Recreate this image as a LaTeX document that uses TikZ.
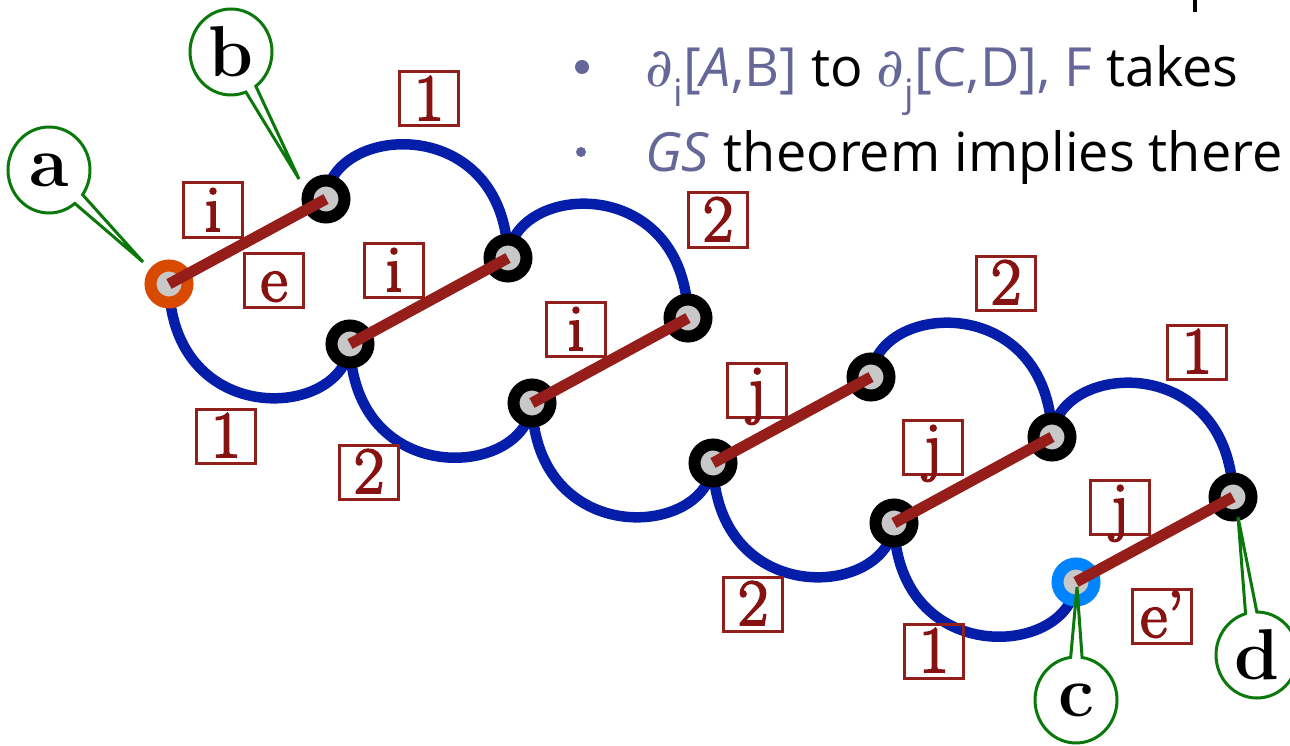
\documentclass[tikz,border=0pt]{standalone}
\usepackage{fontspec}
\usetikzlibrary{shapes.callouts,backgrounds,calc}
\newfontfamily\bulletfont{Open Sans}
\newfontfamily\dfont{DejaVu Serif}
\newfontfamily\labfont{Latin Modern Roman}[Ligatures=TeX,FakeBold=3]
\definecolor{edgered}{RGB}{150,30,26}
\definecolor{labred}{RGB}{135,18,18}
\definecolor{boxred}{RGB}{145,32,28}
\definecolor{arcblue}{RGB}{5,30,170}
\definecolor{ringorange}{RGB}{216,74,0}
\definecolor{ringblue}{RGB}{0,132,255}
\definecolor{calloutgreen}{RGB}{10,120,10}
\definecolor{txtpurple}{RGB}{102,102,153}
\definecolor{hubgray}{RGB}{200,200,200}
\begin{document}
\begin{tikzpicture}[x=1pt,y=-1pt,
  vtx/.style={circle,draw=black,fill=hubgray,line width=12pt,minimum size=37pt,inner sep=0pt},
  redge/.style={draw=edgered,line width=11pt},
  barc/.style={draw=arcblue,line width=10.5pt},
  lab/.style={draw=boxred,line width=3pt,text=labred,minimum width=59pt,minimum height=54pt,
    inner sep=0pt,text height=42pt,text depth=0pt,font=\labfont\fontsize{66}{66}\selectfont},
  tag/.style={ellipse callout,draw=calloutgreen,fill=white,line width=3pt,minimum width=82pt,
    minimum height=86pt,inner sep=0pt,callout pointer arc=16,font=\fontsize{72}{72}\selectfont\bfseries},
  txt/.style={anchor=base west,inner sep=0pt,font=\bulletfont\fontsize{54}{54}\selectfont}
]
\useasboundingbox (0,0) rectangle (1290,746);
\clip (0,0) rectangle (1290,746);

% vertices
\node[vtx,draw=ringorange] (a) at (169,284) {};
\node[vtx] (b) at (326,199) {};
\node[vtx] (n3) at (508,258) {};
\node[vtx] (n4) at (688,318) {};
\node[vtx] (l1) at (350,344) {};
\node[vtx] (l2) at (532,403) {};
\node[vtx] (l3) at (713,463) {};
\node[vtx] (l4) at (894,523) {};
\node[vtx,draw=ringblue] (c) at (1076,582) {};
\node[vtx] (u1) at (871,377) {};
\node[vtx] (u2) at (1052,437) {};
\node[vtx] (d) at (1233,497) {};

% blue arcs
\begin{pgfonlayer}{background}
\foreach \p/\q in {a/l1,l1/l2,l2/l3,l3/l4,l4/c}{
  \draw[barc] (\p.center) .. controls ($(\p)+(3,146)$) and ($(\q)+(-5,76)$) .. (\q.center);
}
\foreach \p/\q in {b/n3,n3/n4,u1/u2,u2/d}{
  \draw[barc] (\p.center) .. controls ($(\p)+(5,-76)$) and ($(\q)+(-3,-146)$) .. (\q.center);
}
\end{pgfonlayer}

% red edges
\foreach \p/\q in {a/b,l1/n3,l2/n4,l3/u1,l4/u2,c/d}{
  \draw[redge] (\p.center) -- (\q.center);
}

% labels
\node[lab] (t1) at (429,99) {1};
\node[lab] (ti1) at (213,210) {i};
\node[lab] (te) at (274,280) {e};
\node[lab] (ti2) at (394,270) {i};
\node[lab] (t2a) at (718,220) {2};
\node[lab] (ti3) at (576,329) {i};
\node[lab] (t1b) at (226,436) {1};
\node[lab] (t2b) at (369,472) {2};
\node[lab] (t2c) at (1006,283) {2};
\node[lab] (t1c) at (1197,352) {1};
\node[lab] (tj1) at (757,390) {j};
\node[lab] (tj2) at (933,447) {j};
\node[lab] (tj3) at (1120,507) {j};
\node[lab] (tep) at (1162,616) {e’};
\node[lab] (t2d) at (753,604) {2};
\node[lab] (t1d) at (934,651) {1};

% callouts
\node[tag,callout absolute pointer={($(a)+(-26,-22)$)}] (ca) at (49,170) {a};
\node[tag,callout absolute pointer={($(b)+(-27,-20)$)}] (cb) at (231,52) {b};
\node[tag,callout absolute pointer={($(c)+(1,5)$)}] (cc) at (1076,700) {c};
\node[tag,callout absolute pointer={($(d)+(5,20)$)}] (cd) at (1257,655) {d};

% text
\fill[txtpurple] (582,67) circle (7);
\fill[txtpurple] (581,152) circle (5);
\node[txt] (line1) at (645,87) {\textcolor{txtpurple}{{\dfont ∂}\textsubscript{i}[\textit{A},B]} to \textcolor{txtpurple}{{\dfont ∂}\textsubscript{j}[C,D], F} takes};
\node[txt] (line2) at (645,172) {\textcolor{txtpurple}{\textit{GS}} theorem implies there};
\draw[line width=3.5pt] (1195,0) -- (1195,12);
\end{tikzpicture}
\end{document}
